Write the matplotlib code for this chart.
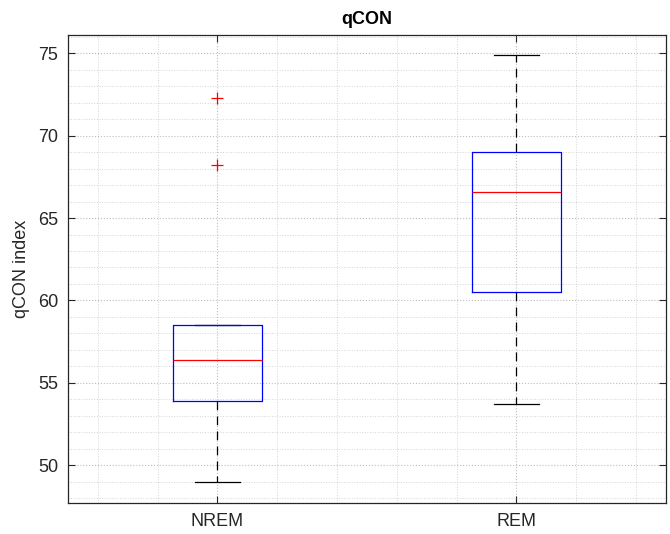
import matplotlib
matplotlib.use("Agg")
import matplotlib.pyplot as plt
from matplotlib.ticker import MultipleLocator

plt.rcParams['font.family'] = ['Liberation Sans', 'DejaVu Sans']

categories = ["NREM", "REM"]
whislo = [49.0, 53.7]
q1 = [53.9, 60.5]
med = [56.4, 66.6]
q3 = [58.5, 69.0]
whishi = [58.5, 74.9]
fliers = [[72.3, 68.2], []]

stats = []
for i, c in enumerate(categories):
    stats.append(dict(label=c, whislo=whislo[i], q1=q1[i], med=med[i],
                      q3=q3[i], whishi=whishi[i], fliers=fliers[i]))

fig = plt.figure(figsize=(6.7, 5.34), dpi=100)
ax = fig.add_axes([0.1015, 0.058, 0.8925, 0.876])

ax.bxp(stats, positions=[1, 2], widths=0.3, showfliers=True,
       boxprops=dict(color=(0, 0, 1), linewidth=0.9, zorder=3),
       medianprops=dict(color=(1, 0, 0), linewidth=0.9, zorder=3),
       whiskerprops=dict(color='black', linestyle=(0, (7, 5)), linewidth=0.9),
       capprops=dict(color='black', linewidth=0.9),
       flierprops=dict(marker='+', markeredgecolor='red', markersize=9,
                       linestyle='none', markeredgewidth=0.9))

ax.set_xlim(0.5, 2.5)
ax.set_ylim(47.7, 76.1)
ax.set_xticks([1, 2])
ax.set_xticklabels(categories)
ax.yaxis.set_major_locator(MultipleLocator(5))
ax.yaxis.set_minor_locator(MultipleLocator(1))
ax.xaxis.set_minor_locator(MultipleLocator(0.2))

ax.grid(True, which='major', linestyle=':', color='#bdbdbd', linewidth=0.8)
ax.grid(True, which='minor', linestyle=':', color='#d4d4d4', linewidth=0.7)
ax.set_axisbelow(True)

ax.tick_params(axis='both', which='both', direction='in', top=True, right=True,
               colors='#262626', labelsize=13)
ax.tick_params(which='minor', length=0)
ax.tick_params(which='major', length=5, pad=7)
for s in ax.spines.values():
    s.set_color('#262626')
    s.set_linewidth(0.9)

ax.set_ylabel("qCON index", fontsize=13, color='#262626', labelpad=6)
ax.set_title("qCON", fontsize=13, fontweight='bold', color='black', pad=8)

fig.savefig("out.png", dpi=100)
